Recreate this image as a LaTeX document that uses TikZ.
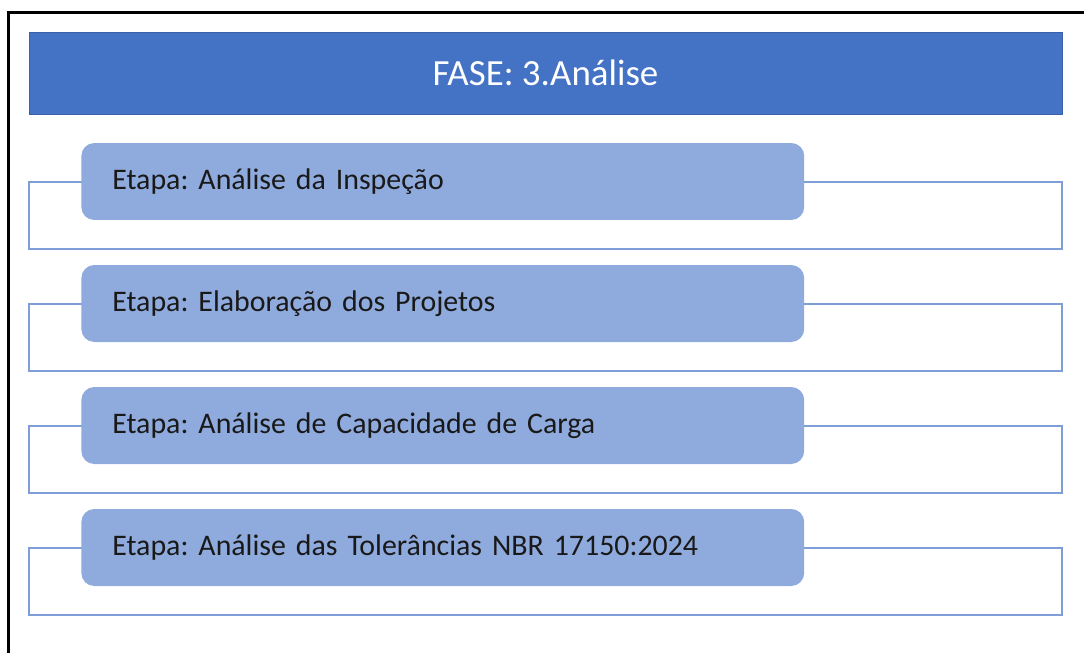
\documentclass[tikz,border=0pt]{standalone}
\usepackage{fontspec}
\setmainfont{Carlito}
\usepackage{tikz}

\definecolor{faseazul}{HTML}{4472C4}
\definecolor{etapaazul}{HTML}{8FAADC}
\definecolor{linhaazul}{HTML}{7F9ED8}

\begin{document}
\frenchspacing
\begin{tikzpicture}[x=0.02cm, y=-0.02cm,
  fase/.style={fill=faseazul, draw=faseazul!85!black, line width=0.4pt, text=white,
    minimum width=20.66cm, minimum height=1.64cm, inner sep=0pt,
    font=\fontsize{21}{24}\selectfont},
  quadro/.style={draw=linhaazul, line width=0.8pt, minimum width=20.66cm, minimum height=1.34cm, inner sep=0pt},
  etapa/.style={fill=etapaazul, rounded corners=0.26cm, anchor=west, minimum height=1.54cm,
    inner xsep=0.62cm, text width=13.22cm, align=left, text=black!90,
    font=\fontsize{17}{20}\selectfont}]
\useasboundingbox (0,0) rectangle (1084,653);
\draw [line width=0.06cm] (8.5,653) -- (8.5,12.5) -- (1084,12.5);
\node[fase] (fase) at (545.5,73) {FASE: 3.Análise};
% quadros por tras das etapas
\node[quadro] (q1) at (545.5,215.5) {};
\node[quadro] (q2) at (545.5,337.5) {};
\node[quadro] (q3) at (545.5,459.5) {};
\node[quadro] (q4) at (545.5,581.5) {};
% etapas
\node[etapa] (e1) at (81,181.5) {Etapa: Análise da Inspeção};
\node[etapa] (e2) at (81,303.5) {Etapa: Elaboração dos Projetos};
\node[etapa] (e3) at (81,425.5) {Etapa: Análise de Capacidade de Carga};
\node[etapa] (e4) at (81,547.5) {Etapa: Análise das Tolerâncias NBR 17150:2024};
\end{tikzpicture}
\end{document}
